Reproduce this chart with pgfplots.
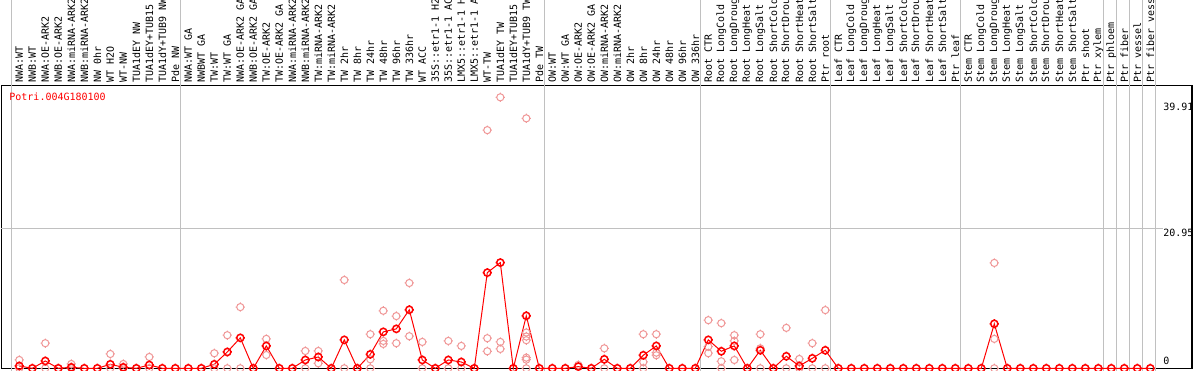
\documentclass[border=0pt]{standalone}
\usepackage{pgfplots}
\pgfplotsset{compat=1.18}
\usepackage{fontspec}
\newfontfamily\pixfont{DejaVu Sans Mono}
\newcommand\pf{\pixfont\fontsize{5pt}{6pt}\selectfont}
\definecolor{meanred}{RGB}{255,0,0}
\definecolor{reppink}{RGB}{240,150,150}
\definecolor{gridgray}{RGB}{192,192,192}

\pgfdeclareplotmark{tcirc}{%
  \pgfpathcircle{\pgfpointorigin}{\pgfplotmarksize}%
  \pgfpathmoveto{\pgfpoint{0pt}{\pgfplotmarksize}}\pgfpathlineto{\pgfpoint{0pt}{\pgfplotmarksize+0.5pt}}%
  \pgfpathmoveto{\pgfpoint{0pt}{-\pgfplotmarksize}}\pgfpathlineto{\pgfpoint{0pt}{-\pgfplotmarksize-0.5pt}}%
  \pgfpathmoveto{\pgfpoint{\pgfplotmarksize}{0pt}}\pgfpathlineto{\pgfpoint{\pgfplotmarksize+0.5pt}{0pt}}%
  \pgfpathmoveto{\pgfpoint{-\pgfplotmarksize}{0pt}}\pgfpathlineto{\pgfpoint{-\pgfplotmarksize-0.5pt}{0pt}}%
  \pgfusepathqstroke}

\pgfplotstableread{
x y
0 0.35
1 0
2 1.1
3 0
4 0.15
5 0
6 0
7 0.6
8 0.15
9 0
10 0.5
11 0
12 0
13 0
14 0
15 0.6
16 2.45
17 4.57
18 0
19 3.36
20 0
21 0
22 1.25
23 1.7
24 0
25 4.27
26 0
27 2.1
28 5.47
29 5.92
30 8.79
31 1.25
32 0
33 1.25
34 0.95
35 0
36 14.36
37 15.87
38 0
39 7.88
40 0
41 0
42 0
43 0.25
44 0
45 1.35
46 0
47 0
48 1.96
49 3.36
50 0
51 0
52 0
53 4.27
54 2.56
55 3.36
56 0
57 2.71
58 0
59 1.81
60 0.35
61 1.5
62 2.71
63 0
64 0
65 0
66 0
67 0
68 0
69 0
70 0
71 0
72 0
73 0
74 0
75 6.68
76 0
77 0
78 0
79 0
80 0
81 0
82 0
83 0
84 0
85 0
86 0
87 0
}\meantab

\pgfplotstableread{
x y
0 1.25
0 0
2 3.77
2 0
4 0.65
4 0
7 2.15
7 0
8 0.65
8 0
10 1.7
10 0
15 2.26
15 0
16 4.97
16 0
17 9.19
17 0
19 4.42
19 2.0
22 2.6
22 0
23 2.6
23 0.75
25 13.26
25 0
27 5.12
27 1.35
27 0
28 8.64
28 4.11
28 3.66
29 7.84
29 3.77
30 12.81
30 4.82
31 3.96
31 0
33 4.11
33 0
34 3.36
34 0
36 35.76
36 4.52
36 2.56
37 40.69
37 3.96
37 2.91
39 37.53
39 5.37
39 4.77
39 4.22
39 1.6
39 1.3
39 0
43 0.5
45 3.0
45 0
48 5.12
48 0.95
48 0
49 5.12
49 2.35
49 1.96
53 7.23
53 3.26
53 2.26
54 6.78
54 1.05
54 0
55 4.97
55 4.11
55 1.25
57 5.12
57 3.0
57 0
59 6.07
59 0
60 1.4
60 0
61 3.77
61 0
62 8.74
62 0
75 15.82
75 4.42
75 0
}\reptab

\begin{document}
\begin{tikzpicture}
\begin{scope}
\clip (0,0) rectangle (597pt,185pt);
\fill[white] (0,0) rectangle (597pt,185pt);
\begin{axis}[
  at={(0.75pt,0.6pt)}, anchor=south west,
  scale only axis, width=595.25pt, height=141.65pt,
  xmin=-1.3692, xmax=90.2077, ymin=-0.075, ymax=42.462,
  clip=false,
  axis line style={line width=0.6pt, black},
  major tick length=0pt,
  ytick=\empty,
  xtick={0,...,87},
  xticklabel pos=upper,
  xticklabels={NWA:WT,NWB:WT,NWA:OE-ARK2,NWB:OE-ARK2,NWA:miRNA-ARK2,NWB:miRNA-ARK2,NW 0hr,WT H2O,WT-NW,TUA1dEY NW,TUA1dEY+TUB15 NW,TUA1dY+TUB9 NW,Pde NW,
    NWA:WT GA,NWBWT GA,TW:WT,TW:WT GA,NWA:OE-ARK2 GA,NWB:OE-ARK2 GA,TW:OE-ARK2,TW:OE-ARK2 GA,NWA:miRNA-ARK2 GA,NWB:miRNA-ARK2 GA,TW:miRNA-ARK2,TW:miRNA-ARK2 GA,TW 2hr,TW 8hr,TW 24hr,TW 48hr,TW 96hr,TW 336hr,WT ACC,35S::etr1-1 H2O,35S::etr1-1 ACC,LMX5::etr1-1 H2O,LMX5::etr1-1 ACC,WT-TW,TUA1dEY TW,TUA1dEY+TUB15 TW,TUA1dY+TUB9 TW,Pde TW,
    OW:WT,OW:WT GA,OW:OE-ARK2,OW:OE-ARK2 GA,OW:miRNA-ARK2,OW:miRNA-ARK2 GA,OW 2hr,OW 8hr,OW 24hr,OW 48hr,OW 96hr,OW 336hr,
    Root CTR,Root LongCold,Root LongDrought,Root LongHeat,Root LongSalt,Root ShortCold,Root ShortDrought,Root ShortHeat,Root ShortSalt,Ptr root,
    Leaf CTR,Leaf LongCold,Leaf LongDrought,Leaf LongHeat,Leaf LongSalt,Leaf ShortCold,Leaf ShortDrought,Leaf ShortHeat,Leaf ShortSalt,Ptr leaf,
    Stem CTR,Stem LongCold,Stem LongDrought,Stem LongHeat,Stem LongSalt,Stem ShortCold,Stem ShortDrought,Stem ShortHeat,Stem ShortSalt,Ptr shoot,Ptr xylem,
    Ptr phloem,Ptr fiber,Ptr vessel,Ptr fiber vessel},
  x tick label style={rotate=90, anchor=west, font=\pf, inner xsep=1.1pt, inner ysep=0pt, text=black},
]
% grid lines
\draw[gridgray, line width=0.5pt] (axis cs:-1.3692,20.95) -- (axis cs:87.95,20.95);
\draw[gridgray, line width=0.5pt] (axis cs:-0.638,-1) -- (axis cs:-0.638,60);
\draw[gridgray, line width=0.5pt] (axis cs:12.362,-1) -- (axis cs:12.362,60);
\draw[gridgray, line width=0.5pt] (axis cs:40.362,-1) -- (axis cs:40.362,60);
\draw[gridgray, line width=0.5pt] (axis cs:52.362,-1) -- (axis cs:52.362,60);
\draw[gridgray, line width=0.5pt] (axis cs:62.362,-1) -- (axis cs:62.362,60);
\draw[gridgray, line width=0.5pt] (axis cs:72.362,-1) -- (axis cs:72.362,60);
\draw[gridgray, line width=0.5pt] (axis cs:83.362,-1) -- (axis cs:83.362,60);
\draw[gridgray, line width=0.5pt] (axis cs:84.362,-1) -- (axis cs:84.362,60);
\draw[gridgray, line width=0.5pt] (axis cs:85.362,-1) -- (axis cs:85.362,60);
\draw[gridgray, line width=0.5pt] (axis cs:86.362,-1) -- (axis cs:86.362,60);
\draw[gridgray, line width=0.5pt] (axis cs:87.362,-1) -- (axis cs:87.362,60);
% replicates
\addplot[only marks, mark=tcirc, mark size=1.8pt, reppink, mark options={line width=0.5pt}] table[x=x,y=y] {\reptab};
% means
\addplot[meanred, line width=0.5pt, mark=tcirc, mark size=1.8pt, mark options={line width=0.75pt}] table[x=x,y=y] {\meantab};
% texts
\node[anchor=west, inner sep=0pt, text=meanred, font=\pf] at (axis cs:-0.792,40.74) {Potri.004G180100};
\node[anchor=north west, inner sep=0pt, font=\pf] at (axis cs:87.977,39.91) {39.91};
\node[anchor=north west, inner sep=0pt, font=\pf] at (axis cs:87.977,20.95) {20.95};
\node[anchor=south west, inner sep=0pt, font=\pf] at (axis cs:87.977,0.45) {0};
\end{axis}
\end{scope}
\pgfresetboundingbox
\useasboundingbox (0,0) rectangle (597pt,185pt);
\end{tikzpicture}
\end{document}
